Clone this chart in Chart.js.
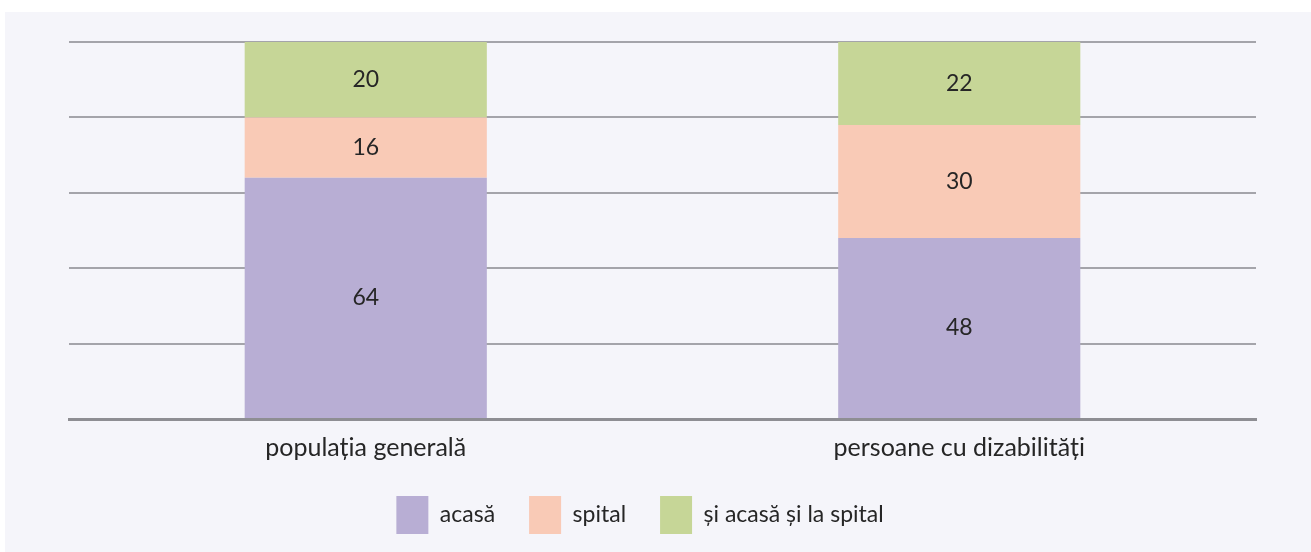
<!DOCTYPE html>
<html lang="ro">
<head>
<meta charset="utf-8">
<title>Locul nașterii</title>
<script src="https://cdn.jsdelivr.net/npm/chart.js@4/dist/chart.umd.min.js"></script>
<style>
  html, body { margin: 0; padding: 0; background: #ffffff; }
  #wrap { position: absolute; left: 5px; top: 12px; width: 1306px; height: 540px; background: #f5f5fa; }
  canvas { display: block; }
</style>
</head>
<body>
<div id="wrap"><canvas id="chart" width="1306" height="540"></canvas></div>
<script>
// Categories and series (percent shares, each column sums to 100)
const categories = ['populația generală', 'persoane cu dizabilități'];
const seriesNames = ['acasă', 'spital', 'și acasă și la spital'];
const acasa = [64, 48];
const spital = [16, 30];
const ambele = [20, 22];
const yTicks = [0, 20, 40, 60, 80, 100];

const colors = ['#b8aed4', '#f9cab6', '#c6d697'];
const textColor = '#262626';
const fontFamily = 'Lato, "Open Sans", sans-serif';

// Writes each segment's value in the middle of its bar
const segmentLabels = {
  id: 'segmentLabels',
  afterDatasetsDraw(chart) {
    const ctx = chart.ctx;
    ctx.save();
    ctx.fillStyle = textColor;
    ctx.font = '23px ' + fontFamily;
    ctx.textAlign = 'center';
    ctx.textBaseline = 'middle';
    chart.data.datasets.forEach((ds, i) => {
      const meta = chart.getDatasetMeta(i);
      if (meta.hidden) return;
      meta.data.forEach((bar, j) => {
        const p = bar.getProps(['x', 'y', 'base'], true);
        ctx.fillText(String(ds.data[j]), p.x, (p.y + p.base) / 2);
      });
    });
    ctx.restore();
  }
};

new Chart(document.getElementById('chart'), {
  type: 'bar',
  data: {
    labels: categories,
    datasets: [
      { label: seriesNames[0], data: acasa, backgroundColor: colors[0] },
      { label: seriesNames[1], data: spital, backgroundColor: colors[1] },
      { label: seriesNames[2], data: ambele, backgroundColor: colors[2] }
    ]
  },
  options: {
    responsive: false,
    animation: false,
    layout: { padding: { left: 19, right: 55, top: 30, bottom: 8 } },
    datasets: {
      bar: { categoryPercentage: 1, barPercentage: 0.408, borderWidth: 0 }
    },
    scales: {
      x: {
        stacked: true,
        grid: { display: false },
        border: { display: true, color: '#8e8e93', width: 3 },
        ticks: { color: textColor, font: { family: fontFamily, size: 25 }, padding: 6 },
        afterFit(scale) { scale.height = 43; }
      },
      y: {
        stacked: true,
        min: yTicks[0],
        max: yTicks[yTicks.length - 1],
        afterBuildTicks(scale) { scale.ticks = yTicks.map(v => ({ value: v })); },
        afterFit(scale) { scale.width = 45; },
        ticks: { display: false },
        grid: { color: '#a4a4aa', lineWidth: 2, drawTicks: false },
        border: { display: false }
      }
    },
    plugins: {
      legend: {
        position: 'bottom',
        labels: {
          boxWidth: 32,
          boxHeight: 38,
          padding: 34,
          color: textColor,
          font: { family: fontFamily, size: 23 }
        }
      },
      tooltip: { enabled: false }
    }
  },
  plugins: [segmentLabels]
});
</script>
</body>
</html>
